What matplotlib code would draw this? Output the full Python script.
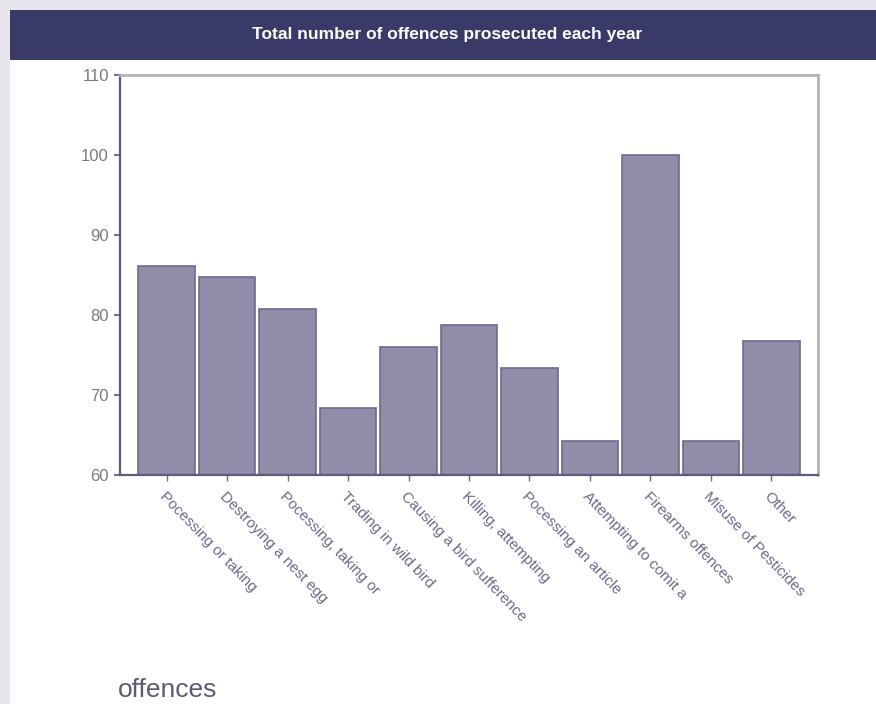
import matplotlib.pyplot as plt
from matplotlib.patches import Rectangle

categories = [
    "Pocessing or taking",
    "Destroying a nest egg",
    "Pocessing, taking or",
    "Trading in wild bird",
    "Causing a bird sufference",
    "Killing, attempting",
    "Pocessing an article",
    "Attempting to comit a",
    "Firearms offences",
    "Misuse of Pesticides",
    "Other",
]
values = [86.1, 84.8, 80.7, 68.4, 76.0, 78.8, 73.4, 64.2, 100.0, 64.2, 76.7]
yticks = [60, 70, 80, 90, 100, 110]

plt.rcParams["font.family"] = ["Liberation Sans", "DejaVu Sans"]

fig = plt.figure(figsize=(8.76, 7.04), dpi=100)
fig.patch.set_facecolor("#e9e5ec")

# white panel and title banner
fig.add_artist(Rectangle((10 / 876, 0), 866 / 876, 1 - 60 / 704,
                         transform=fig.transFigure, facecolor="white",
                         edgecolor="none", zorder=0))
fig.add_artist(Rectangle((10 / 876, 1 - 60 / 704), 866 / 876, 50 / 704,
                         transform=fig.transFigure, facecolor="#3a3a68",
                         edgecolor="none", zorder=0))
fig.text(447 / 876, 1 - 35 / 704, "Total number of offences prosecuted each year",
         ha="center", va="center", color="white", fontsize=12.5, fontweight="bold")

ax = fig.add_axes([120 / 876, 1 - 475 / 704, 698 / 876, 400 / 704])
ax.set_facecolor("white")
x = list(range(len(categories)))
ax.bar(x, values, width=0.94, bottom=0, color="#918ca8", edgecolor="#6c6890",
       linewidth=1.2)
ax.set_xlim(-0.77, len(categories) - 1 + 0.77)
ax.set_ylim(60, 110)
ax.set_yticks(yticks)
ax.set_xticks(x)
ax.set_xticklabels(categories, rotation=-46, ha="left", va="top",
                   rotation_mode="anchor", fontsize=11, color="#6e6a86")
ax.tick_params(axis="y", labelsize=12, colors="#5a5870", labelcolor="#7a7a7a",
               length=4, width=1.2, pad=4)
ax.tick_params(axis="x", length=4, width=1, colors="#6c6890",
               labelcolor="#6e6a86", pad=6)
for side in ["left", "bottom"]:
    ax.spines[side].set_color("#5e5a7a")
    ax.spines[side].set_linewidth(1.6)
for side in ["top", "right"]:
    ax.spines[side].set_color("#b4b2c0")
    ax.spines[side].set_linewidth(2)

fig.text(118 / 876, 1 - 690 / 704, "offences", ha="left", va="center",
         fontsize=19, color="#5e5a70")

fig.savefig("out.png", dpi=100, facecolor=fig.get_facecolor())
